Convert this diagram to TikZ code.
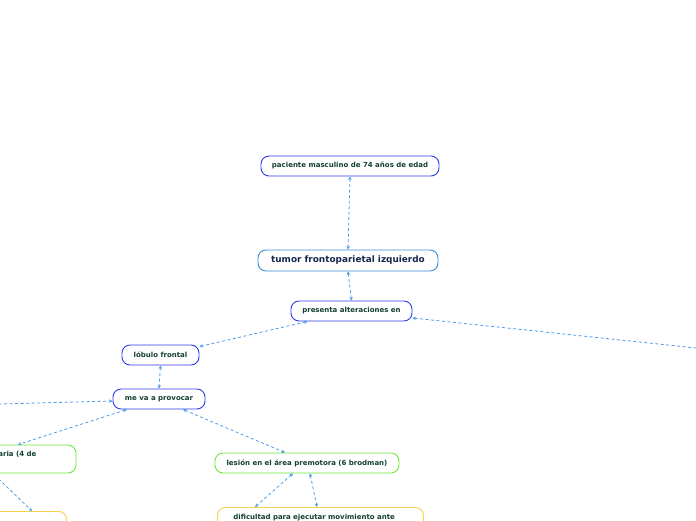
\documentclass[tikz,border=0pt]{standalone}
\usepackage{fontspec}
\setsansfont{DejaVu Sans}
\usepackage{tikz}
\usetikzlibrary{calc,arrows.meta}
\usepackage{xcolor}
\definecolor{mapBlue}{HTML}{2F3BEA}
\definecolor{mapSky}{HTML}{3A8ED6}
\definecolor{mapGreen}{HTML}{6BE83A}
\definecolor{mapYellow}{HTML}{F7D14A}
\definecolor{mapLink}{HTML}{4C9BE6}
\definecolor{mapText}{HTML}{123F33}
\definecolor{mapNavy}{HTML}{16284D}

\begin{document}
\begin{tikzpicture}[
  x=1pt,y=-1pt,
  every node/.style={font=\sffamily\bfseries\fontsize{7}{10}\selectfont,text=mapText},
  frame/.style={draw,fill=white,rounded corners=8pt,line width=0.9pt,minimum height=20pt,inner sep=2pt,align=center},
  bluebox/.style={frame,draw=mapBlue},
  skybox/.style={frame,draw=mapSky,font=\sffamily\bfseries\fontsize{8.9}{11}\selectfont,text=mapNavy},
  greenbox/.style={frame,draw=mapGreen},
  yellowbox/.style={frame,draw=mapYellow},
  flow/.style={{Stealth[length=3.5pt,width=3.5pt]}-{Stealth[length=3.5pt,width=3.5pt]},draw=mapLink,line width=0.8pt,dash pattern=on 3pt off 2.5pt},
]
\useasboundingbox (0,0) rectangle (696,520);
\clip (0,0) rectangle (696,520);

\node[bluebox,minimum width=178pt] (paciente) at (350,166)
  {paciente masculino de 74 años de edad};
\node[skybox,minimum width=180pt,minimum height=21pt] (tumor) at (348,260.5)
  {tumor frontoparietal izquierdo};
\node[bluebox,minimum width=121pt] (presenta) at (351.5,311)
  {presenta alteraciones en};
\node[bluebox,minimum width=77pt] (lobulo) at (160.5,355)
  {lóbulo frontal};
\node[bluebox,minimum width=92pt] (provocar) at (159,399)
  {me va a provocar};
\node[greenbox,minimum width=184pt] (premotora) at (307,463)
  {lesión en el área premotora (6 brodman)};
\node[greenbox,minimum width=234pt,minimum height=28pt] (motora) at (-41,459)
  {lesión en el área motora primaria (4 de\\brodman)};
\node[yellowbox,anchor=north east,minimum width=150pt,minimum height=40pt] (motoraefecto) at (67,511) {};
\node[yellowbox,anchor=north west,minimum width=206pt,minimum height=40pt,text width=174pt,align=left,text depth=22pt] (dificultad) at (217,507)
  {dificultad para ejecutar movimiento ante};

\coordinate (outR) at (720,350.5);
\coordinate (outL) at (-20,404.5);

\draw[flow] (paciente.south) -- (tumor.north);
\draw[flow] (tumor.south) -- (presenta.north);
\draw[flow] ([xshift=-44pt]presenta.south) -- ([yshift=-2pt]lobulo.north east);
\draw[flow] ([yshift=-7pt]presenta.east) -- (outR);
\draw[flow] (lobulo.south) -- (provocar.north);
\draw[flow] (outL) -- ([yshift=-2pt]provocar.west);
\draw[flow] ([xshift=-32pt]provocar.south) -- ([xshift=59pt]motora.north);
\draw[flow] ([xshift=24pt]provocar.south) -- ([xshift=-22pt]premotora.north);
\draw[flow] ([xshift=34pt]motora.south) -- ([xshift=-35pt]motoraefecto.north east);
\draw[flow] ([xshift=-14pt]premotora.south) -- ([xshift=38pt]dificultad.north west);
\draw[flow] ([xshift=3pt]premotora.south) -- ([xshift=100pt]dificultad.north west);
\end{tikzpicture}
\end{document}
